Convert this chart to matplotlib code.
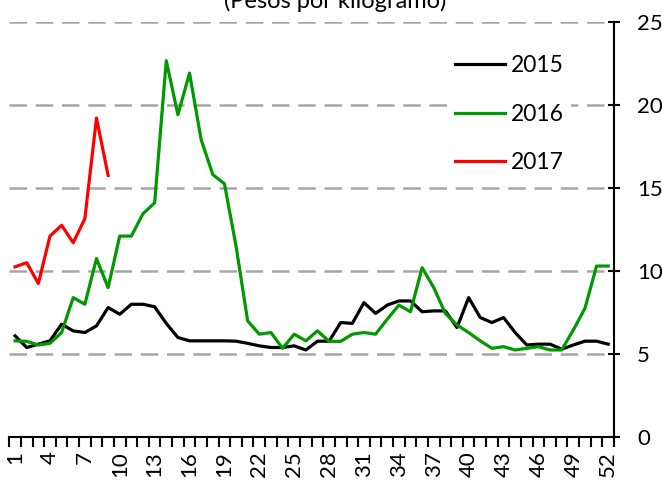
import matplotlib
matplotlib.use("Agg")
import matplotlib.pyplot as plt
from matplotlib.ticker import FixedLocator

plt.rcParams['font.family'] = ['Lato', 'DejaVu Sans']

weeks = list(range(1, 53))

precio_2015 = [6.1, 5.4, 5.6, 5.8, 6.8, 6.4, 6.3, 6.7, 7.8, 7.4,
               8.0, 8.0, 7.85, 6.85, 6.0, 5.8, 5.8, 5.8, 5.8, 5.78,
               5.65, 5.5, 5.4, 5.4, 5.5, 5.25, 5.78, 5.78, 6.9, 6.85,
               8.1, 7.45, 7.95, 8.2, 8.2, 7.55, 7.6, 7.6, 6.6, 8.4,
               7.2, 6.9, 7.2, 6.3, 5.55, 5.6, 5.6, 5.3, 5.55, 5.78,
               5.78, 5.6]

precio_2016 = [5.8, 5.77, 5.55, 5.65, 6.3, 8.4, 8.0, 10.75, 9.0, 12.1,
               12.1, 13.45, 14.1, 22.65, 19.4, 21.9, 17.9, 15.8, 15.25, 11.5,
               7.0, 6.2, 6.3, 5.35, 6.2, 5.8, 6.4, 5.77, 5.77, 6.2,
               6.3, 6.2, 7.1, 7.95, 7.55, 10.2, 9.0, 7.45, 6.75, 6.3,
               5.8, 5.35, 5.45, 5.25, 5.35, 5.45, 5.25, 5.25, 6.45, 7.75,
               10.3, 10.3]

semanas_2017 = list(range(1, 10))
precio_2017 = [10.25, 10.5, 9.25, 12.1, 12.75, 11.7, 13.15, 19.2, 15.75]

label_ticks = list(range(1, 53, 3))

fig = plt.figure(figsize=(6.62, 4.8), dpi=100)
ax = fig.add_axes([0.014, 0.089, 0.9135, 0.866])

# dashed horizontal guides
for y in [5, 10, 15, 20, 25]:
    ax.axhline(y, color='#a6a6a6', lw=1.8, dashes=(7, 3.5), zorder=1)

ax.plot(weeks, precio_2015, color='black', lw=2.3, label='2015', zorder=3)
ax.plot(weeks, precio_2016, color='#009900', lw=2.3, label='2016', zorder=3)
ax.plot(semanas_2017, precio_2017, color='#ff0000', lw=2.3, label='2017', zorder=3)

ax.set_xlim(0.5, 52.5)
ax.set_ylim(0, 25)

ax.spines['top'].set_visible(False)
ax.spines['left'].set_visible(False)
ax.spines['right'].set_linewidth(1.5)
ax.spines['bottom'].set_linewidth(1.5)

ax.yaxis.tick_right()
ax.set_yticks([0, 5, 10, 15, 20, 25])
ax.tick_params(axis='y', direction='inout', length=9, width=1.5,
               labelsize=16, pad=12)

ax.set_xticks(label_ticks)
ax.set_xticklabels([str(w) for w in label_ticks], rotation=90)
ax.xaxis.set_minor_locator(FixedLocator([w + 0.5 for w in range(0, 53)]))
ax.tick_params(axis='x', which='major', length=0, labelsize=16, pad=10)
ax.tick_params(axis='x', which='minor', direction='out', length=7, width=1.5)

leg = ax.legend(loc='upper left', bbox_to_anchor=(0.725, 0.935), frameon=True,
                fontsize=16.5, handlelength=2.2, handletextpad=0.25,
                labelspacing=1.2, borderpad=0.3, borderaxespad=0)
leg.get_frame().set_facecolor('white')
leg.get_frame().set_edgecolor('none')
leg.get_frame().set_alpha(1)
leg.set_zorder(2)

fig.text(0.506, 0.983, '(Pesos por kilogramo)', ha='center', va='baseline',
         fontsize=17)

fig.savefig('out.png', dpi=100)
